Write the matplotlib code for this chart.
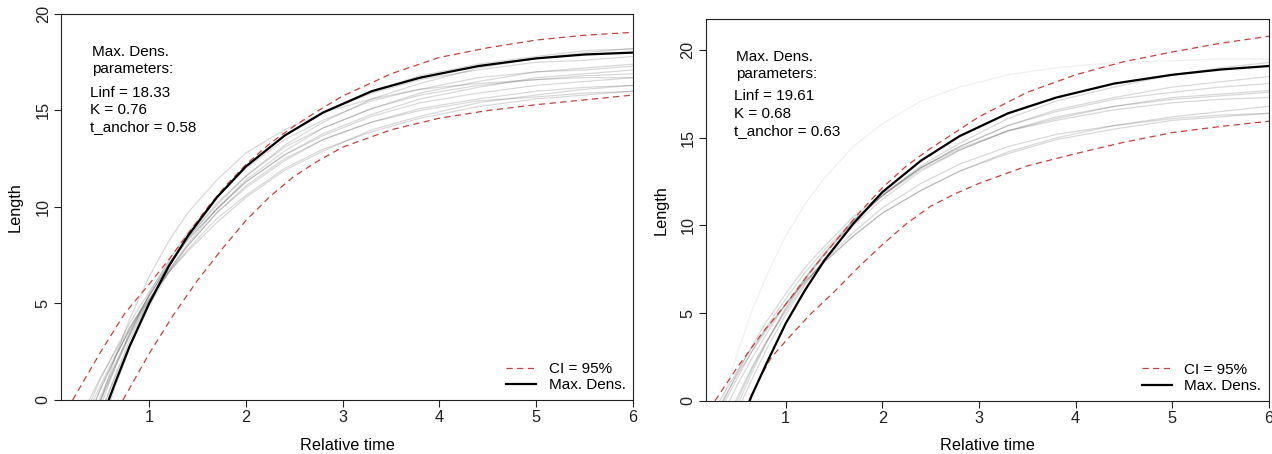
import matplotlib
matplotlib.use("Agg")
import matplotlib.pyplot as plt
from matplotlib.lines import Line2D

plt.rcParams['font.family'] = ['Liberation Sans', 'DejaVu Sans']

t_grid = [0.2, 0.35, 0.5, 0.65, 0.8, 1.0, 1.2, 1.4, 1.7, 2.0, 2.4, 2.8, 3.3, 3.8, 4.4, 5.0, 5.5, 6.0]

# ---- left panel ----
left_black = [-6.1, -3.5, -1.1, 0.9, 2.8, 5.0, 6.9, 8.5, 10.5, 12.1, 13.7, 14.9, 16.0, 16.7, 17.3, 17.7, 17.9, 18.0]
left_gray = [
    [-6.1, -3.5, -1.1, 0.9, 2.8, 5.0, 6.9, 8.5, 10.5, 12.1, 13.7, 14.9, 16.0, 16.7, 17.3, 17.7, 17.9, 18.0],
    [-5.3, -2.9, -0.7, 1.3, 3.1, 5.1, 7.0, 8.5, 10.5, 12.1, 13.7, 14.9, 16.0, 16.8, 17.4, 17.8, 18.1, 18.2],
    [-6.8, -4.0, -1.5, 0.7, 2.7, 4.9, 6.9, 8.5, 10.5, 12.1, 13.7, 14.9, 15.9, 16.6, 17.1, 17.5, 17.6, 17.8],
    [-5.0, -2.5, -0.3, 1.7, 3.4, 5.5, 7.2, 8.7, 10.5, 12.0, 13.5, 14.5, 15.5, 16.1, 16.7, 17.0, 17.1, 17.3],
    [-4.3, -2.0, 0.0, 1.8, 3.5, 5.4, 7.0, 8.4, 10.2, 11.6, 13.1, 14.1, 15.1, 15.8, 16.3, 16.6, 16.8, 16.9],
    [-3.3, -1.2, 0.6, 2.2, 3.7, 5.4, 6.9, 8.3, 9.9, 11.3, 12.7, 13.7, 14.7, 15.4, 15.9, 16.3, 16.5, 16.7],
    [-3.7, -1.6, 0.2, 1.9, 3.4, 5.2, 6.7, 8.0, 9.7, 11.0, 12.4, 13.5, 14.4, 15.1, 15.6, 16.0, 16.2, 16.3],
    [-2.6, -0.8, 0.8, 2.3, 3.6, 5.2, 6.6, 7.8, 9.4, 10.6, 12.0, 13.0, 13.9, 14.6, 15.2, 15.6, 15.8, 16.0],
    [-4.0, -1.9, 0.0, 1.7, 3.3, 5.1, 6.7, 8.1, 9.9, 11.4, 12.9, 14.1, 15.1, 15.9, 16.5, 17.0, 17.2, 17.4],
    [-5.5, -2.6, 0.0, 2.2, 4.2, 6.4, 8.2, 9.7, 11.4, 12.8, 14.0, 14.9, 15.6, 16.1, 16.4, 16.6, 16.7, 16.7],
    [-5.2, -2.8, -0.7, 1.2, 2.9, 4.9, 6.6, 8.0, 9.7, 11.1, 12.5, 13.5, 14.4, 15.0, 15.5, 15.7, 15.9, 16.0],
    [-3.2, -1.2, 0.6, 2.2, 3.7, 5.4, 7.0, 8.4, 10.1, 11.6, 13.2, 14.4, 15.6, 16.4, 17.2, 17.7, 18.0, 18.2],
    [-2.4, -0.6, 1.1, 2.6, 4.0, 5.6, 7.1, 8.3, 9.9, 11.3, 12.7, 13.8, 14.8, 15.6, 16.2, 16.7, 16.9, 17.1],
    [-1.9, -0.3, 1.2, 2.5, 3.8, 5.2, 6.6, 7.7, 9.2, 10.5, 11.9, 12.9, 14.0, 14.7, 15.4, 15.8, 16.1, 16.3],
]
left_up_t = [0.21, 0.5, 0.75, 0.9, 1.0, 1.2, 1.4, 1.6, 1.8, 2.0, 2.25, 2.5, 2.75, 3.0, 3.5, 4.0, 4.5, 5.0, 5.5, 6.0]
left_up = [0, 2.5, 4.5, 5.4, 6.0, 7.25, 8.6, 9.95, 11.15, 12.2, 13.3, 14.2, 15.0, 15.75, 16.9, 17.75, 18.25, 18.65, 18.9, 19.05]
left_lo_t = [0.73, 1.0, 1.25, 1.5, 1.75, 2.0, 2.25, 2.5, 2.75, 3.0, 3.5, 4.0, 4.5, 5.0, 5.5, 6.0]
left_lo = [0, 2.4, 4.4, 6.2, 7.8, 9.3, 10.55, 11.6, 12.4, 13.1, 14.0, 14.6, 15.0, 15.3, 15.55, 15.8]

# ---- right panel ----
right_black = [-6.7, -4.1, -1.8, 0.3, 2.1, 4.4, 6.3, 8.0, 10.1, 11.9, 13.7, 15.1, 16.4, 17.3, 18.1, 18.6, 18.9, 19.1]
right_gray = [
    [-6.7, -4.1, -1.8, 0.3, 2.1, 4.4, 6.3, 8.0, 10.1, 11.9, 13.7, 15.1, 16.4, 17.3, 18.1, 18.6, 18.9, 19.1],
    [-1.6, 0.0, 1.5, 2.8, 4.0, 5.5, 6.8, 7.9, 9.4, 10.7, 12.0, 13.1, 14.1, 14.9, 15.5, 16.0, 16.2, 16.4],
    [-5.0, -2.7, -0.6, 1.2, 2.9, 4.9, 6.6, 8.1, 10.0, 11.5, 13.1, 14.3, 15.4, 16.1, 16.8, 17.2, 17.4, 17.6],
    [-4.1, -1.9, 0.0, 1.8, 3.3, 5.2, 6.9, 8.3, 10.2, 11.7, 13.3, 14.5, 15.7, 16.5, 17.2, 17.6, 17.9, 18.1],
    [-2.1, -0.3, 1.3, 2.8, 4.2, 5.8, 7.3, 8.6, 10.3, 11.7, 13.3, 14.5, 15.7, 16.6, 17.3, 17.9, 18.2, 18.5],
    [-3.6, -1.6, 0.2, 1.9, 3.4, 5.1, 6.7, 8.0, 9.6, 11.0, 12.4, 13.5, 14.5, 15.2, 15.7, 16.1, 16.3, 16.4],
    [-1.2, 0.3, 1.7, 3.0, 4.1, 5.5, 6.8, 7.9, 9.4, 10.7, 12.0, 13.1, 14.2, 15.0, 15.7, 16.2, 16.5, 16.8],
    [-2.6, -0.8, 0.9, 2.4, 3.8, 5.5, 7.0, 8.4, 10.2, 11.7, 13.4, 14.7, 16.1, 17.1, 17.9, 18.6, 19.0, 19.3],
    [-2.0, -0.1, 1.6, 3.1, 4.5, 6.1, 7.6, 8.8, 10.5, 11.8, 13.3, 14.4, 15.4, 16.2, 16.8, 17.3, 17.5, 17.7],
    [-4.7, -2.4, -0.3, 1.6, 3.3, 5.3, 7.0, 8.4, 10.3, 11.7, 13.2, 14.3, 15.4, 16.0, 16.6, 17.0, 17.2, 17.3],
]
right_outlier = [-3.2, 0.0, 2.7, 5.1, 7.1, 9.4, 11.2, 12.7, 14.5, 15.8, 17.1, 17.9, 18.6, 19.0, 19.3, 19.4, 19.5, 19.5]
right_up_t = [0.27, 0.5, 0.75, 1.0, 1.25, 1.5, 1.75, 2.0, 2.25, 2.5, 2.75, 3.0, 3.5, 4.0, 4.5, 5.0, 5.5, 6.0]
right_up = [0, 1.9, 3.8, 5.5, 7.3, 9.0, 10.65, 12.15, 13.4, 14.4, 15.3, 16.2, 17.6, 18.6, 19.35, 19.9, 20.4, 20.8]
right_lo_t = [0.62, 0.75, 0.85, 1.0, 1.25, 1.5, 1.75, 2.0, 2.25, 2.5, 2.75, 3.0, 3.5, 4.0, 4.5, 5.0, 5.5, 6.0]
right_lo = [0, 1.45, 2.45, 3.4, 4.9, 6.2, 7.6, 8.9, 10.1, 11.1, 11.8, 12.4, 13.4, 14.1, 14.75, 15.3, 15.65, 15.95]

left_params = ["Linf = 18.33", "K = 0.76", "t_anchor = 0.58"]
right_params = ["Linf = 19.61", "K = 0.68", "t_anchor = 0.63"]
x_ticks = [1, 2, 3, 4, 5, 6]
y_ticks = [0, 5, 10, 15, 20]

red = '#c8423f'
dash = (5, 3.5)

fig = plt.figure(figsize=(12.72, 4.54), dpi=100)
ax1 = fig.add_axes([0.048, 0.119, 0.4497, 0.8502])
ax2 = fig.add_axes([0.555, 0.1174, 0.4426, 0.8414])

panels = [
    (ax1, left_gray, left_black, left_up_t, left_up, left_lo_t, left_lo, (0.09, 6), (0, 20), left_params, None),
    (ax2, right_gray, right_black, right_up_t, right_up, right_lo_t, right_lo, (0.176, 6), (0, 21.8), right_params, right_outlier),
]

for ax, gray, black, ut, up, lt, lo, xl, yl, par, outl in panels:
    # bootstrap curves
    for curve in gray:
        ax.plot(t_grid, curve, color='black', alpha=0.15, lw=0.9)
    if outl is not None:
        ax.plot(t_grid, outl, color='black', alpha=0.06, lw=0.9)
    # CI and max density curve
    ax.plot(ut, up, color=red, lw=0.9, dashes=dash)
    ax.plot(lt, lo, color=red, lw=0.9, dashes=dash)
    ax.plot(t_grid, black, color='black', lw=1.6)

    ax.set_xlim(*xl)
    ax.set_ylim(*yl)
    ax.set_xticks(x_ticks)
    ax.set_yticks(y_ticks)
    ax.tick_params(direction='out', length=5, width=0.8, labelsize=11.7, pad=2.5, colors='#222222')
    for lab in ax.get_yticklabels():
        lab.set_rotation(90)
        lab.set_va('center')
    for s in ax.spines.values():
        s.set_color('#222222')
        s.set_linewidth(0.8)
    ax.set_xlabel('Relative time', fontsize=11.7)
    ax.set_ylabel('Length', fontsize=11.7)
    ax.xaxis.set_label_coords(0.5, -0.098)
    ax.yaxis.set_label_coords(-0.067, 0.5)

    ax.text(0.054, 0.890, 'Max. Dens.', transform=ax.transAxes, fontsize=11, va='baseline')
    ax.text(0.054, 0.846, 'parameters:', transform=ax.transAxes, fontsize=11, va='baseline')
    for ypos, s in zip([0.786, 0.741, 0.696], par):
        ax.text(0.050, ypos, s, transform=ax.transAxes, fontsize=11, va='baseline')

    handles = [Line2D([], [], color=red, lw=0.9, dashes=dash),
               Line2D([], [], color='black', lw=1.6)]
    ax.legend(handles, ['CI = 95%', 'Max. Dens.'], loc='lower right', frameon=False,
              fontsize=11, handlelength=2.0, handletextpad=0.8, labelspacing=0.15,
              borderaxespad=0.2, borderpad=0.3)

fig.savefig('out.png', dpi=100)
